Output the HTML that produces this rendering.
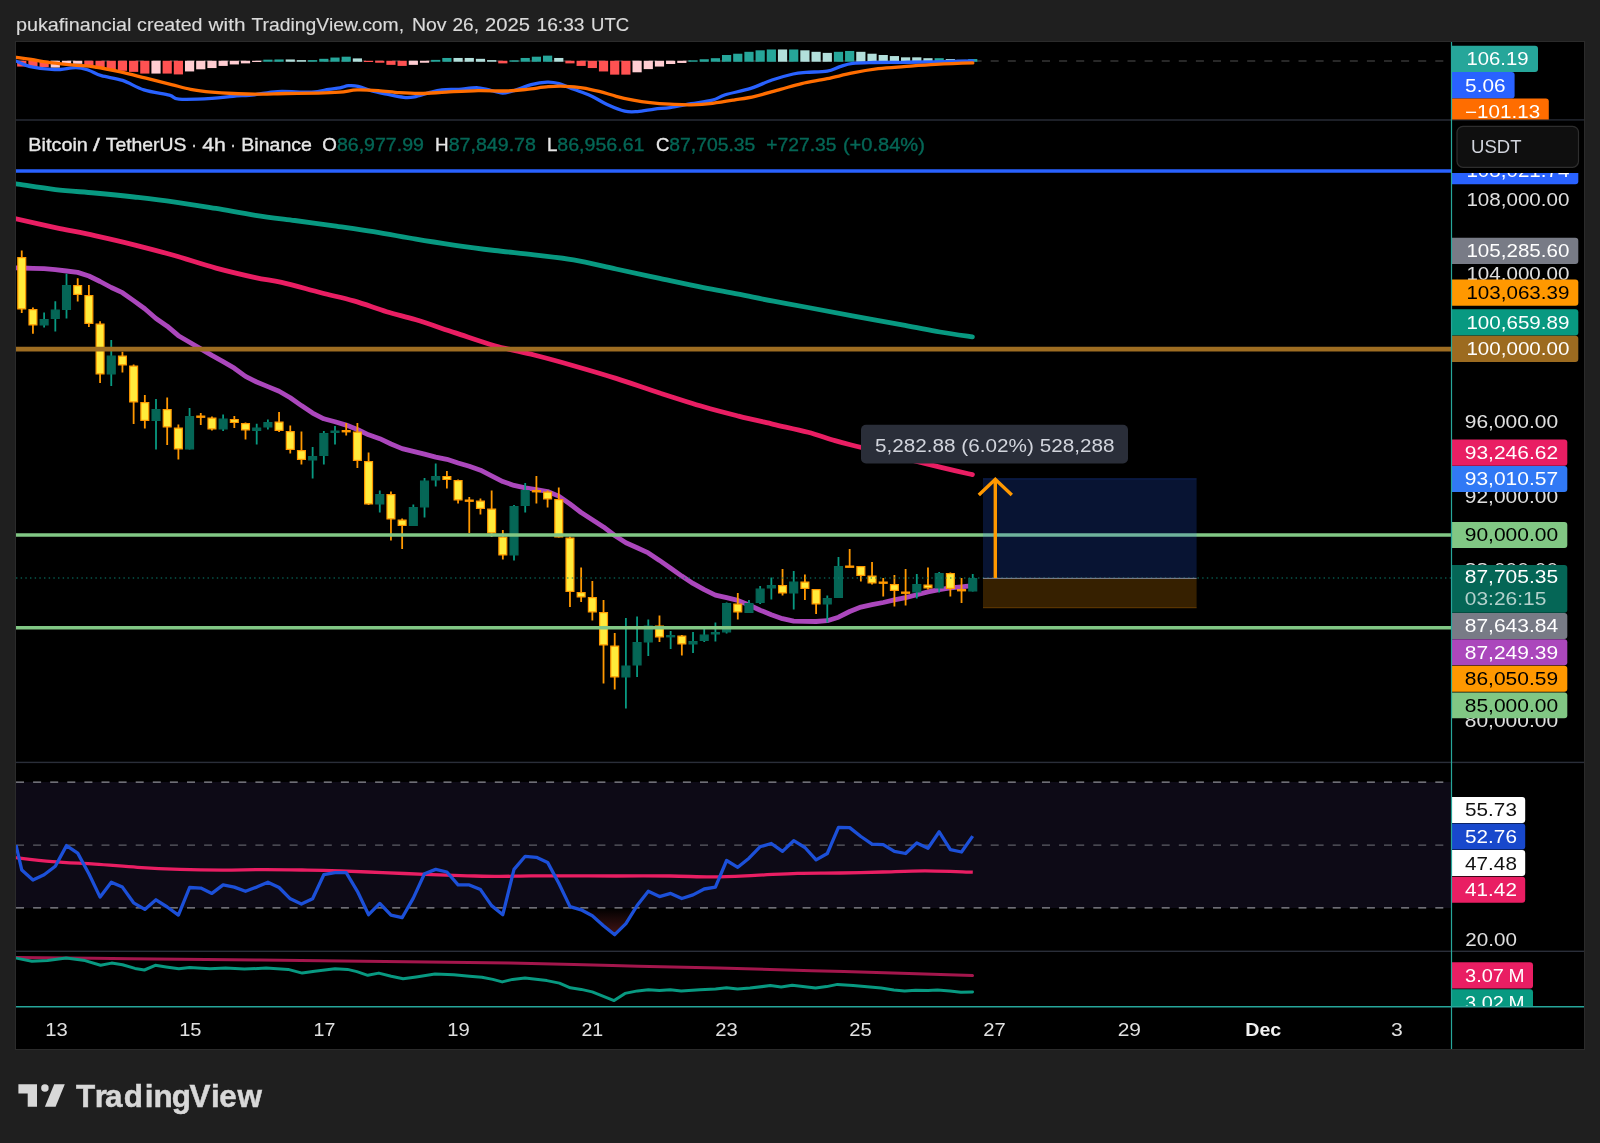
<!DOCTYPE html>
<html><head><meta charset="utf-8"><title>BTCUSDT chart</title>
<style>html,body{margin:0;padding:0;background:#1f1f1f;}body{width:1600px;height:1143px;overflow:hidden;font-family:"Liberation Sans",sans-serif;}svg{display:block;will-change:transform}</style>
</head><body>
<svg width="1600" height="1143" viewBox="0 0 1600 1143" font-family="Liberation Sans, sans-serif"><rect x="0" y="0" width="1600" height="1143" fill="#1f1f1f"/>
<rect x="15" y="41" width="1570" height="1009" fill="#2b2b2b"/>
<rect x="16" y="42" width="1568" height="1007" fill="#000"/>
<text x="15.90" y="31.00" font-size="19.0" fill="#dadada" font-weight="normal" text-anchor="start" textLength="115.60" lengthAdjust="spacingAndGlyphs" stroke="#dadada" stroke-width="0.15">pukafinancial</text>
<text x="137.10" y="31.00" font-size="19.0" fill="#dadada" font-weight="normal" text-anchor="start" textLength="65.40" lengthAdjust="spacingAndGlyphs" stroke="#dadada" stroke-width="0.15">created</text>
<text x="208.50" y="31.00" font-size="19.0" fill="#dadada" font-weight="normal" text-anchor="start" textLength="37.00" lengthAdjust="spacingAndGlyphs" stroke="#dadada" stroke-width="0.15">with</text>
<text x="251.50" y="31.00" font-size="19.0" fill="#dadada" font-weight="normal" text-anchor="start" textLength="152.60" lengthAdjust="spacingAndGlyphs" stroke="#dadada" stroke-width="0.15">TradingView.com,</text>
<text x="411.90" y="31.00" font-size="19.0" fill="#dadada" font-weight="normal" text-anchor="start" textLength="34.60" lengthAdjust="spacingAndGlyphs" stroke="#dadada" stroke-width="0.15">Nov</text>
<text x="452.50" y="31.00" font-size="19.0" fill="#dadada" font-weight="normal" text-anchor="start" textLength="26.50" lengthAdjust="spacingAndGlyphs" stroke="#dadada" stroke-width="0.15">26,</text>
<text x="485.10" y="31.00" font-size="19.0" fill="#dadada" font-weight="normal" text-anchor="start" textLength="44.90" lengthAdjust="spacingAndGlyphs" stroke="#dadada" stroke-width="0.15">2025</text>
<text x="536.50" y="31.00" font-size="19.0" fill="#dadada" font-weight="normal" text-anchor="start" textLength="48.00" lengthAdjust="spacingAndGlyphs" stroke="#dadada" stroke-width="0.15">16:33</text>
<text x="591.10" y="31.00" font-size="19.0" fill="#dadada" font-weight="normal" text-anchor="start" textLength="38.00" lengthAdjust="spacingAndGlyphs" stroke="#dadada" stroke-width="0.15">UTC</text>
<defs><clipPath id="cpM"><rect x="16" y="42" width="1435.5" height="78"/></clipPath><clipPath id="cpMain"><rect x="16" y="120" width="1435.5" height="642"/></clipPath><clipPath id="cpR"><rect x="16" y="763" width="1435.5" height="188"/></clipPath><clipPath id="cpO"><rect x="16" y="952" width="1435.5" height="55"/></clipPath><clipPath id="cpAx1"><rect x="1451.5" y="42" width="132.5" height="77.5"/></clipPath><clipPath id="cpAx2"><rect x="1451.5" y="120.5" width="132.5" height="641.5"/></clipPath><clipPath id="cpAx4"><rect x="1451.5" y="952" width="132.5" height="54"/></clipPath></defs>
<g clip-path="url(#cpM)">
<line x1="16" y1="61" x2="1451.5" y2="61" stroke="#505050" stroke-width="1.2" stroke-dasharray="8 9.1"/>
<rect x="17.15" y="60.75" width="9.2" height="5.81" fill="#ff5252"/>
<rect x="28.34" y="60.75" width="9.2" height="6.87" fill="#ff5252"/>
<rect x="39.53" y="60.75" width="9.2" height="6.45" fill="#ff5252"/>
<rect x="50.71" y="60.75" width="9.2" height="6.87" fill="#ffcdd2"/>
<rect x="61.90" y="60.75" width="9.2" height="3.05" fill="#ffcdd2"/>
<rect x="73.09" y="60.75" width="9.2" height="3.05" fill="#ffcdd2"/>
<rect x="84.28" y="60.75" width="9.2" height="5.81" fill="#ff5252"/>
<rect x="95.47" y="60.75" width="9.2" height="7.94" fill="#ff5252"/>
<rect x="106.65" y="60.75" width="9.2" height="8.57" fill="#ff5252"/>
<rect x="117.84" y="60.75" width="9.2" height="10.06" fill="#ff5252"/>
<rect x="129.03" y="60.75" width="9.2" height="11.12" fill="#ff5252"/>
<rect x="140.22" y="60.75" width="9.2" height="12.82" fill="#ff5252"/>
<rect x="151.41" y="60.75" width="9.2" height="12.82" fill="#ffcdd2"/>
<rect x="162.59" y="60.75" width="9.2" height="12.82" fill="#ff5252"/>
<rect x="173.78" y="60.75" width="9.2" height="13.67" fill="#ff5252"/>
<rect x="184.97" y="60.75" width="9.2" height="10.70" fill="#ffcdd2"/>
<rect x="196.16" y="60.75" width="9.2" height="8.57" fill="#ffcdd2"/>
<rect x="207.35" y="60.75" width="9.2" height="7.30" fill="#ffcdd2"/>
<rect x="218.53" y="60.75" width="9.2" height="5.17" fill="#ffcdd2"/>
<rect x="229.72" y="60.75" width="9.2" height="3.69" fill="#ffcdd2"/>
<rect x="240.91" y="60.75" width="9.2" height="2.62" fill="#ffcdd2"/>
<rect x="252.10" y="60.75" width="9.2" height="1.25" fill="#ffcdd2"/>
<rect x="263.29" y="59.67" width="9.2" height="2.08" fill="#26a69a"/>
<rect x="274.47" y="59.46" width="9.2" height="2.29" fill="#26a69a"/>
<rect x="285.66" y="59.46" width="9.2" height="2.29" fill="#b2dfdb"/>
<rect x="296.85" y="60.10" width="9.2" height="1.65" fill="#b2dfdb"/>
<rect x="308.04" y="60.10" width="9.2" height="1.65" fill="#26a69a"/>
<rect x="319.23" y="58.82" width="9.2" height="2.93" fill="#26a69a"/>
<rect x="330.41" y="57.55" width="9.2" height="4.20" fill="#26a69a"/>
<rect x="341.60" y="56.70" width="9.2" height="5.05" fill="#26a69a"/>
<rect x="352.79" y="58.40" width="9.2" height="3.35" fill="#b2dfdb"/>
<rect x="363.98" y="60.75" width="9.2" height="1.25" fill="#ff5252"/>
<rect x="375.17" y="60.75" width="9.2" height="1.99" fill="#ff5252"/>
<rect x="386.35" y="60.75" width="9.2" height="4.11" fill="#ff5252"/>
<rect x="397.54" y="60.75" width="9.2" height="5.17" fill="#ff5252"/>
<rect x="408.73" y="60.75" width="9.2" height="4.11" fill="#ffcdd2"/>
<rect x="419.92" y="60.75" width="9.2" height="1.99" fill="#ffcdd2"/>
<rect x="431.11" y="59.89" width="9.2" height="1.86" fill="#26a69a"/>
<rect x="442.29" y="57.97" width="9.2" height="3.78" fill="#26a69a"/>
<rect x="453.48" y="57.97" width="9.2" height="3.78" fill="#b2dfdb"/>
<rect x="464.67" y="57.97" width="9.2" height="3.78" fill="#b2dfdb"/>
<rect x="475.86" y="58.82" width="9.2" height="2.93" fill="#b2dfdb"/>
<rect x="487.05" y="60.10" width="9.2" height="1.65" fill="#b2dfdb"/>
<rect x="498.23" y="60.75" width="9.2" height="2.62" fill="#ff5252"/>
<rect x="509.42" y="60.31" width="9.2" height="1.44" fill="#26a69a"/>
<rect x="520.61" y="57.97" width="9.2" height="3.78" fill="#26a69a"/>
<rect x="531.80" y="56.70" width="9.2" height="5.05" fill="#26a69a"/>
<rect x="542.99" y="55.64" width="9.2" height="6.11" fill="#26a69a"/>
<rect x="554.17" y="57.97" width="9.2" height="3.78" fill="#b2dfdb"/>
<rect x="565.36" y="60.75" width="9.2" height="2.62" fill="#ff5252"/>
<rect x="576.55" y="60.75" width="9.2" height="5.17" fill="#ff5252"/>
<rect x="587.74" y="60.75" width="9.2" height="7.30" fill="#ff5252"/>
<rect x="598.93" y="60.75" width="9.2" height="10.70" fill="#ff5252"/>
<rect x="610.11" y="60.75" width="9.2" height="13.89" fill="#ff5252"/>
<rect x="621.30" y="60.75" width="9.2" height="13.89" fill="#ff5252"/>
<rect x="632.49" y="60.75" width="9.2" height="11.55" fill="#ffcdd2"/>
<rect x="643.68" y="60.75" width="9.2" height="8.36" fill="#ffcdd2"/>
<rect x="654.87" y="60.75" width="9.2" height="5.81" fill="#ffcdd2"/>
<rect x="666.05" y="60.75" width="9.2" height="3.26" fill="#ffcdd2"/>
<rect x="677.24" y="60.75" width="9.2" height="2.20" fill="#ffcdd2"/>
<rect x="688.43" y="60.31" width="9.2" height="1.44" fill="#26a69a"/>
<rect x="699.62" y="59.25" width="9.2" height="2.50" fill="#26a69a"/>
<rect x="710.81" y="58.19" width="9.2" height="3.56" fill="#26a69a"/>
<rect x="721.99" y="55.00" width="9.2" height="6.75" fill="#26a69a"/>
<rect x="733.18" y="53.72" width="9.2" height="8.03" fill="#26a69a"/>
<rect x="744.37" y="51.81" width="9.2" height="9.94" fill="#26a69a"/>
<rect x="755.56" y="50.32" width="9.2" height="11.43" fill="#26a69a"/>
<rect x="766.75" y="49.47" width="9.2" height="12.28" fill="#26a69a"/>
<rect x="777.93" y="49.47" width="9.2" height="12.28" fill="#b2dfdb"/>
<rect x="789.12" y="49.47" width="9.2" height="12.28" fill="#26a69a"/>
<rect x="800.31" y="50.32" width="9.2" height="11.43" fill="#b2dfdb"/>
<rect x="811.50" y="51.81" width="9.2" height="9.94" fill="#b2dfdb"/>
<rect x="822.69" y="52.87" width="9.2" height="8.88" fill="#b2dfdb"/>
<rect x="833.87" y="51.81" width="9.2" height="9.94" fill="#26a69a"/>
<rect x="845.06" y="50.96" width="9.2" height="10.79" fill="#26a69a"/>
<rect x="856.25" y="51.81" width="9.2" height="9.94" fill="#b2dfdb"/>
<rect x="867.44" y="53.72" width="9.2" height="8.03" fill="#b2dfdb"/>
<rect x="878.63" y="55.00" width="9.2" height="6.75" fill="#b2dfdb"/>
<rect x="889.81" y="56.06" width="9.2" height="5.69" fill="#b2dfdb"/>
<rect x="901.00" y="57.34" width="9.2" height="4.41" fill="#b2dfdb"/>
<rect x="912.19" y="57.34" width="9.2" height="4.41" fill="#b2dfdb"/>
<rect x="923.38" y="58.19" width="9.2" height="3.56" fill="#b2dfdb"/>
<rect x="934.57" y="58.19" width="9.2" height="3.56" fill="#26a69a"/>
<rect x="945.75" y="59.04" width="9.2" height="2.71" fill="#b2dfdb"/>
<rect x="956.94" y="59.89" width="9.2" height="1.86" fill="#b2dfdb"/>
<rect x="968.13" y="59.04" width="9.2" height="2.71" fill="#26a69a"/>
<path d="M16.4 61.2 C18.7 62.1 23.8 65.2 30.2 66.6 C36.6 68.0 47.0 69.5 54.6 69.7 C62.2 69.9 70.2 67.5 75.9 67.6 C81.6 67.7 84.3 68.8 88.6 70.2 C92.8 71.6 95.7 74.0 101.4 75.7 C107.1 77.4 115.5 78.0 122.6 80.4 C129.7 82.8 136.1 87.4 143.9 89.9 C151.7 92.4 163.6 93.7 169.4 95.2 C175.2 96.7 171.8 98.6 178.9 99.1 C186.0 99.6 202.9 98.9 211.9 98.4 C220.9 97.9 226.0 96.9 233.1 96.3 C240.2 95.7 247.0 95.6 254.4 94.8 C261.8 94.0 268.1 92.0 277.7 91.6 C287.2 91.1 303.2 92.5 311.7 92.1 C320.2 91.7 324.0 90.0 328.7 89.3 C333.4 88.6 336.7 88.4 340.0 87.8 C343.3 87.2 345.5 86.0 348.5 85.7 C351.5 85.5 354.1 85.4 358.0 86.3 C361.9 87.2 367.1 89.7 371.9 91.0 C376.7 92.3 381.4 93.1 386.7 94.2 C392.0 95.3 399.1 97.0 403.7 97.4 C408.3 97.9 410.1 97.7 414.4 96.9 C418.6 96.1 424.6 93.9 429.2 92.7 C433.8 91.5 437.0 90.5 442.0 89.9 C447.0 89.3 453.0 89.7 459.0 89.3 C465.0 88.9 472.4 87.5 478.1 87.8 C483.8 88.1 488.9 90.1 493.0 91.0 C497.1 91.9 499.1 93.2 502.6 93.1 C506.1 93.0 509.4 92.0 514.2 90.6 C519.0 89.2 525.7 86.0 531.2 84.6 C536.7 83.2 542.6 82.3 547.2 82.1 C551.8 81.9 554.5 82.4 558.9 83.6 C563.3 84.8 568.4 87.3 573.7 89.3 C579.0 91.3 585.0 93.1 590.7 95.7 C596.4 98.3 602.0 102.2 607.7 104.8 C613.4 107.4 619.7 110.1 624.7 111.2 C629.7 112.3 632.5 111.9 637.5 111.6 C642.5 111.2 649.1 109.8 654.5 109.1 C659.9 108.4 663.9 108.5 670.0 107.6 C676.1 106.7 684.1 105.0 691.2 103.7 C698.3 102.5 706.8 101.6 712.5 100.1 C718.2 98.6 718.8 96.8 725.2 94.8 C731.6 92.8 742.9 90.9 750.7 88.4 C758.5 85.9 764.9 82.4 772.0 80.0 C779.1 77.6 787.5 75.3 793.2 74.0 C798.9 72.7 800.3 72.8 806.0 72.3 C811.7 71.8 821.5 72.2 827.2 71.2 C832.9 70.2 835.8 67.9 840.0 66.6 C844.2 65.3 847.0 64.1 852.7 63.4 C858.4 62.7 865.5 62.7 874.0 62.5 C882.5 62.3 893.4 62.4 903.7 62.3 C914.0 62.2 924.1 62.1 935.6 61.9 C947.1 61.6 966.6 61.0 972.8 60.8" fill="none" stroke="#2962ff" stroke-width="3.3" stroke-linejoin="round" stroke-linecap="round"/>
<path d="M16.4 57.4 C18.9 57.8 25.2 58.6 31.2 59.5 C37.2 60.4 45.4 62.0 52.5 62.9 C59.6 63.8 66.6 64.4 73.7 65.1 C80.8 65.8 87.2 65.9 95.0 67.0 C102.8 68.1 112.0 70.0 120.5 71.9 C129.0 73.8 137.5 76.1 146.0 78.2 C154.5 80.3 164.1 82.8 171.5 84.6 C178.9 86.4 183.9 88.0 190.6 89.3 C197.3 90.5 204.8 91.4 211.9 92.1 C219.0 92.8 226.0 93.2 233.1 93.5 C240.2 93.8 245.6 94.2 254.4 94.2 C263.2 94.2 275.6 93.7 286.2 93.5 C296.8 93.3 309.1 93.3 318.1 93.1 C327.1 92.9 333.5 92.6 340.0 92.1 C346.5 91.6 350.6 90.2 357.0 89.9 C363.4 89.7 371.1 90.1 378.2 90.6 C385.3 91.1 392.4 92.2 399.5 92.7 C406.6 93.2 412.9 93.6 420.7 93.5 C428.5 93.4 436.6 92.6 446.2 92.1 C455.8 91.6 468.2 90.8 478.1 90.6 C488.0 90.4 497.6 91.2 505.7 91.0 C513.9 90.8 519.9 90.0 527.0 89.3 C534.1 88.6 541.8 87.2 548.2 86.7 C554.6 86.2 559.5 86.1 565.2 86.3 C570.9 86.5 576.5 86.9 582.2 87.8 C587.9 88.7 593.5 90.0 599.2 91.4 C604.9 92.8 610.5 94.8 616.2 96.3 C621.9 97.8 627.5 99.0 633.2 100.1 C638.9 101.2 644.1 102.0 650.2 102.7 C656.3 103.4 663.2 103.9 670.0 104.2 C676.8 104.5 684.1 105.0 691.2 104.8 C698.3 104.6 705.4 104.1 712.5 103.3 C719.6 102.5 726.6 101.3 733.7 100.1 C740.8 98.9 747.2 98.1 755.0 96.3 C762.8 94.5 772.7 91.4 780.5 89.3 C788.3 87.2 793.9 85.4 801.7 83.6 C809.5 81.8 818.7 80.5 827.2 78.7 C835.7 76.9 844.2 74.6 852.7 72.9 C861.2 71.2 869.7 69.8 878.2 68.7 C886.7 67.7 894.1 67.3 903.7 66.6 C913.3 65.9 924.1 65.0 935.6 64.4 C947.1 63.8 966.6 63.1 972.8 62.9" fill="none" stroke="#ff6d00" stroke-width="3.3" stroke-linejoin="round" stroke-linecap="round"/>
</g>
<g clip-path="url(#cpMain)">
<path d="M16.0 183.9 C22.6 184.8 42.3 188.0 55.4 189.6 C68.5 191.1 81.6 191.8 94.7 193.0 C107.8 194.2 121.0 195.5 134.1 197.0 C147.2 198.5 159.8 199.9 173.5 201.8 C187.2 203.7 202.3 206.2 216.0 208.4 C229.7 210.7 242.3 213.3 255.4 215.3 C268.5 217.3 281.6 218.8 294.7 220.5 C307.8 222.2 321.0 224.0 334.1 225.8 C347.2 227.7 359.9 229.4 373.5 231.6 C387.1 233.8 402.4 236.9 416.0 239.2 C429.6 241.5 442.3 243.4 455.4 245.3 C468.5 247.2 481.6 248.9 494.7 250.5 C507.8 252.1 521.0 253.2 534.1 254.8 C547.2 256.4 559.9 257.5 573.5 259.9 C587.1 262.3 601.6 265.9 616.0 269.0 C630.4 272.1 645.1 275.3 659.7 278.4 C674.3 281.5 690.4 285.0 703.5 287.6 C716.6 290.2 726.8 291.9 738.5 294.2 C750.2 296.5 761.9 299.0 773.5 301.2 C785.1 303.4 794.8 305.1 808.0 307.5 C821.2 309.9 836.3 312.8 852.5 315.8 C868.7 318.8 890.4 322.6 905.0 325.3 C919.6 328.0 928.8 330.1 940.0 332.0 C951.2 333.9 967.0 336.1 972.4 336.9" fill="none" stroke="#089981" stroke-width="4.8" stroke-linejoin="round" stroke-linecap="round"/>
<path d="M16.0 218.8 C22.6 220.3 42.3 224.8 55.4 227.6 C68.5 230.4 81.6 232.7 94.7 235.6 C107.8 238.5 121.0 241.5 134.1 244.8 C147.2 248.1 159.8 251.4 173.5 255.3 C187.2 259.2 202.3 264.4 216.0 268.1 C229.7 271.8 244.5 275.2 255.4 277.6 C266.3 280.0 270.7 279.8 281.6 282.3 C292.5 284.8 309.0 289.7 321.0 292.8 C333.0 295.9 342.9 297.8 353.8 300.9 C364.7 304.0 376.2 308.5 386.6 311.7 C397.0 314.9 404.5 316.3 416.0 319.8 C427.5 323.3 442.3 328.6 455.4 332.9 C468.5 337.2 481.6 342.0 494.7 345.7 C507.8 349.4 521.0 351.7 534.1 355.0 C547.2 358.3 559.9 361.8 573.5 365.7 C587.1 369.6 601.6 373.8 616.0 378.4 C630.4 382.9 645.1 388.3 659.7 393.0 C674.3 397.7 690.4 402.9 703.5 406.8 C716.6 410.7 726.8 413.2 738.5 416.1 C750.2 419.0 761.9 421.6 773.5 424.3 C785.1 427.0 797.8 429.6 808.0 432.3 C818.2 435.0 826.4 438.2 835.0 440.6 C843.6 443.1 842.0 442.6 859.5 447.0 C877.0 451.4 921.2 462.6 940.0 467.2 C958.8 471.8 967.0 473.4 972.4 474.6" fill="none" stroke="#e91e63" stroke-width="4.8" stroke-linejoin="round" stroke-linecap="round"/>
<polyline points="16.0,267.9 21.8,268.0 32.9,268.4 44.1,268.7 55.3,269.7 66.5,271.0 77.7,272.4 88.9,276.0 100.1,281.5 111.3,287.5 122.4,292.7 133.6,300.6 144.8,308.8 156.0,318.5 167.2,326.2 178.4,335.7 189.6,342.3 200.8,348.8 211.9,355.4 223.1,361.7 234.3,368.2 245.5,376.4 256.7,382.0 267.9,386.6 279.1,391.2 290.3,397.8 301.4,405.6 312.6,413.1 323.8,418.8 335.0,421.7 346.2,425.1 357.4,429.5 368.6,434.8 379.8,438.7 391.0,444.0 402.1,448.6 413.3,451.4 424.5,454.1 435.7,457.1 446.9,459.3 458.1,463.0 469.3,466.3 480.5,470.2 491.6,475.9 502.8,481.6 514.0,485.4 525.2,487.8 536.4,489.5 547.6,491.5 558.8,496.1 570.0,504.0 581.1,512.5 592.3,519.7 603.5,526.9 614.7,535.5 625.9,542.7 637.1,547.7 648.3,552.9 659.5,560.4 670.7,568.3 681.8,576.1 693.0,583.4 704.2,589.6 715.4,595.1 726.6,597.7 737.8,600.4 749.0,605.0 760.2,610.2 771.3,614.8 782.5,618.7 793.7,621.1 804.9,621.4 816.1,621.5 827.3,620.7 838.5,617.2 849.7,611.5 860.9,607.1 872.0,604.7 883.2,602.5 894.4,599.9 905.6,597.6 916.8,594.7 928.0,591.9 939.2,589.6 950.4,587.8 961.5,586.8 972.7,585.7" fill="none" stroke="#ab47bc" stroke-width="4.8" stroke-linejoin="round" stroke-linecap="butt"/>
<line x1="21.75" y1="250.50" x2="21.75" y2="313.00" stroke="#ff9800" stroke-width="1.8"/>
<rect x="17.80" y="257.60" width="7.9" height="51.30" fill="#ffeb3b" stroke="#ff9800" stroke-width="1.2"/>
<line x1="32.94" y1="307.50" x2="32.94" y2="333.75" stroke="#ff9800" stroke-width="1.8"/>
<rect x="28.99" y="309.60" width="7.9" height="15.30" fill="#ffeb3b" stroke="#ff9800" stroke-width="1.2"/>
<line x1="44.13" y1="312.50" x2="44.13" y2="327.50" stroke="#089981" stroke-width="1.8"/>
<rect x="40.18" y="319.60" width="7.9" height="5.30" fill="#056656" stroke="#056656" stroke-width="1.2"/>
<line x1="55.31" y1="301.25" x2="55.31" y2="331.50" stroke="#089981" stroke-width="1.8"/>
<rect x="51.36" y="310.10" width="7.9" height="8.30" fill="#056656" stroke="#056656" stroke-width="1.2"/>
<line x1="66.50" y1="273.75" x2="66.50" y2="318.50" stroke="#089981" stroke-width="1.8"/>
<rect x="62.55" y="285.60" width="7.9" height="23.80" fill="#056656" stroke="#056656" stroke-width="1.2"/>
<line x1="77.69" y1="278.25" x2="77.69" y2="301.50" stroke="#ff9800" stroke-width="1.8"/>
<rect x="73.74" y="285.60" width="7.9" height="8.80" fill="#ffeb3b" stroke="#ff9800" stroke-width="1.2"/>
<line x1="88.88" y1="285.00" x2="88.88" y2="327.00" stroke="#ff9800" stroke-width="1.8"/>
<rect x="84.93" y="295.60" width="7.9" height="27.80" fill="#ffeb3b" stroke="#ff9800" stroke-width="1.2"/>
<line x1="100.07" y1="321.25" x2="100.07" y2="383.00" stroke="#ff9800" stroke-width="1.8"/>
<rect x="96.12" y="324.10" width="7.9" height="49.80" fill="#ffeb3b" stroke="#ff9800" stroke-width="1.2"/>
<line x1="111.25" y1="340.00" x2="111.25" y2="386.00" stroke="#089981" stroke-width="1.8"/>
<rect x="107.30" y="356.10" width="7.9" height="17.80" fill="#056656" stroke="#056656" stroke-width="1.2"/>
<line x1="122.44" y1="351.75" x2="122.44" y2="372.50" stroke="#ff9800" stroke-width="1.8"/>
<rect x="118.49" y="356.10" width="7.9" height="8.80" fill="#ffeb3b" stroke="#ff9800" stroke-width="1.2"/>
<line x1="133.63" y1="364.50" x2="133.63" y2="424.00" stroke="#ff9800" stroke-width="1.8"/>
<rect x="129.68" y="366.10" width="7.9" height="35.80" fill="#ffeb3b" stroke="#ff9800" stroke-width="1.2"/>
<line x1="144.82" y1="395.00" x2="144.82" y2="428.50" stroke="#ff9800" stroke-width="1.8"/>
<rect x="140.87" y="402.60" width="7.9" height="17.80" fill="#ffeb3b" stroke="#ff9800" stroke-width="1.2"/>
<line x1="156.01" y1="399.00" x2="156.01" y2="449.50" stroke="#089981" stroke-width="1.8"/>
<rect x="152.06" y="409.60" width="7.9" height="10.80" fill="#056656" stroke="#056656" stroke-width="1.2"/>
<line x1="167.19" y1="397.50" x2="167.19" y2="445.00" stroke="#ff9800" stroke-width="1.8"/>
<rect x="163.24" y="409.60" width="7.9" height="17.30" fill="#ffeb3b" stroke="#ff9800" stroke-width="1.2"/>
<line x1="178.38" y1="424.50" x2="178.38" y2="459.50" stroke="#ff9800" stroke-width="1.8"/>
<rect x="174.43" y="428.10" width="7.9" height="20.80" fill="#ffeb3b" stroke="#ff9800" stroke-width="1.2"/>
<line x1="189.57" y1="408.00" x2="189.57" y2="449.50" stroke="#089981" stroke-width="1.8"/>
<rect x="185.62" y="416.60" width="7.9" height="32.30" fill="#056656" stroke="#056656" stroke-width="1.2"/>
<line x1="200.76" y1="413.00" x2="200.76" y2="425.00" stroke="#ff9800" stroke-width="1.8"/>
<rect x="196.21" y="415.50" width="9.1" height="2.40" fill="#ff9800"/>
<line x1="211.95" y1="416.50" x2="211.95" y2="430.50" stroke="#ff9800" stroke-width="1.8"/>
<rect x="208.00" y="418.10" width="7.9" height="10.80" fill="#ffeb3b" stroke="#ff9800" stroke-width="1.2"/>
<line x1="223.13" y1="414.50" x2="223.13" y2="431.00" stroke="#089981" stroke-width="1.8"/>
<rect x="219.18" y="419.10" width="7.9" height="9.80" fill="#056656" stroke="#056656" stroke-width="1.2"/>
<line x1="234.32" y1="416.00" x2="234.32" y2="428.00" stroke="#ff9800" stroke-width="1.8"/>
<rect x="230.37" y="419.60" width="7.9" height="2.80" fill="#ffeb3b" stroke="#ff9800" stroke-width="1.2"/>
<line x1="245.51" y1="422.50" x2="245.51" y2="439.50" stroke="#ff9800" stroke-width="1.8"/>
<rect x="241.56" y="423.60" width="7.9" height="6.30" fill="#ffeb3b" stroke="#ff9800" stroke-width="1.2"/>
<line x1="256.70" y1="423.75" x2="256.70" y2="444.50" stroke="#089981" stroke-width="1.8"/>
<rect x="252.75" y="428.10" width="7.9" height="2.30" fill="#056656" stroke="#056656" stroke-width="1.2"/>
<line x1="267.89" y1="419.50" x2="267.89" y2="429.50" stroke="#089981" stroke-width="1.8"/>
<rect x="263.94" y="422.60" width="7.9" height="4.30" fill="#056656" stroke="#056656" stroke-width="1.2"/>
<line x1="279.07" y1="412.00" x2="279.07" y2="432.00" stroke="#ff9800" stroke-width="1.8"/>
<rect x="275.12" y="422.10" width="7.9" height="8.30" fill="#ffeb3b" stroke="#ff9800" stroke-width="1.2"/>
<line x1="290.26" y1="425.50" x2="290.26" y2="453.50" stroke="#ff9800" stroke-width="1.8"/>
<rect x="286.31" y="431.60" width="7.9" height="17.80" fill="#ffeb3b" stroke="#ff9800" stroke-width="1.2"/>
<line x1="301.45" y1="431.50" x2="301.45" y2="464.50" stroke="#ff9800" stroke-width="1.8"/>
<rect x="297.50" y="450.60" width="7.9" height="8.80" fill="#ffeb3b" stroke="#ff9800" stroke-width="1.2"/>
<line x1="312.64" y1="447.00" x2="312.64" y2="478.50" stroke="#089981" stroke-width="1.8"/>
<rect x="308.69" y="456.60" width="7.9" height="3.30" fill="#056656" stroke="#056656" stroke-width="1.2"/>
<line x1="323.83" y1="431.00" x2="323.83" y2="464.50" stroke="#089981" stroke-width="1.8"/>
<rect x="319.88" y="433.60" width="7.9" height="21.80" fill="#056656" stroke="#056656" stroke-width="1.2"/>
<line x1="335.01" y1="426.00" x2="335.01" y2="444.50" stroke="#089981" stroke-width="1.8"/>
<rect x="330.46" y="430.50" width="9.1" height="2.50" fill="#056656"/>
<line x1="346.20" y1="423.00" x2="346.20" y2="435.50" stroke="#ff9800" stroke-width="1.8"/>
<rect x="341.65" y="430.00" width="9.1" height="2.40" fill="#ff9800"/>
<line x1="357.39" y1="423.00" x2="357.39" y2="468.00" stroke="#ff9800" stroke-width="1.8"/>
<rect x="353.44" y="432.10" width="7.9" height="28.30" fill="#ffeb3b" stroke="#ff9800" stroke-width="1.2"/>
<line x1="368.58" y1="452.50" x2="368.58" y2="505.00" stroke="#ff9800" stroke-width="1.8"/>
<rect x="364.63" y="461.60" width="7.9" height="42.30" fill="#ffeb3b" stroke="#ff9800" stroke-width="1.2"/>
<line x1="379.77" y1="490.50" x2="379.77" y2="512.50" stroke="#089981" stroke-width="1.8"/>
<rect x="375.82" y="494.60" width="7.9" height="9.30" fill="#056656" stroke="#056656" stroke-width="1.2"/>
<line x1="390.95" y1="491.50" x2="390.95" y2="540.50" stroke="#ff9800" stroke-width="1.8"/>
<rect x="387.00" y="494.60" width="7.9" height="24.30" fill="#ffeb3b" stroke="#ff9800" stroke-width="1.2"/>
<line x1="402.14" y1="518.50" x2="402.14" y2="549.00" stroke="#ff9800" stroke-width="1.8"/>
<rect x="398.19" y="520.10" width="7.9" height="5.30" fill="#ffeb3b" stroke="#ff9800" stroke-width="1.2"/>
<line x1="413.33" y1="504.50" x2="413.33" y2="526.00" stroke="#089981" stroke-width="1.8"/>
<rect x="409.38" y="507.60" width="7.9" height="17.80" fill="#056656" stroke="#056656" stroke-width="1.2"/>
<line x1="424.52" y1="478.00" x2="424.52" y2="517.50" stroke="#089981" stroke-width="1.8"/>
<rect x="420.57" y="481.10" width="7.9" height="25.80" fill="#056656" stroke="#056656" stroke-width="1.2"/>
<line x1="435.71" y1="463.50" x2="435.71" y2="486.50" stroke="#089981" stroke-width="1.8"/>
<rect x="431.76" y="476.60" width="7.9" height="3.30" fill="#056656" stroke="#056656" stroke-width="1.2"/>
<line x1="446.89" y1="471.00" x2="446.89" y2="488.50" stroke="#ff9800" stroke-width="1.8"/>
<rect x="442.94" y="476.60" width="7.9" height="2.80" fill="#ffeb3b" stroke="#ff9800" stroke-width="1.2"/>
<line x1="458.08" y1="479.50" x2="458.08" y2="503.50" stroke="#ff9800" stroke-width="1.8"/>
<rect x="454.13" y="480.60" width="7.9" height="19.30" fill="#ffeb3b" stroke="#ff9800" stroke-width="1.2"/>
<line x1="469.27" y1="497.00" x2="469.27" y2="533.00" stroke="#ff9800" stroke-width="1.8"/>
<rect x="464.72" y="499.50" width="9.1" height="2.40" fill="#ff9800"/>
<line x1="480.46" y1="498.50" x2="480.46" y2="514.50" stroke="#ff9800" stroke-width="1.8"/>
<rect x="476.51" y="501.10" width="7.9" height="7.30" fill="#ffeb3b" stroke="#ff9800" stroke-width="1.2"/>
<line x1="491.65" y1="490.50" x2="491.65" y2="537.00" stroke="#ff9800" stroke-width="1.8"/>
<rect x="487.70" y="509.10" width="7.9" height="23.80" fill="#ffeb3b" stroke="#ff9800" stroke-width="1.2"/>
<line x1="502.83" y1="530.00" x2="502.83" y2="559.50" stroke="#ff9800" stroke-width="1.8"/>
<rect x="498.88" y="537.10" width="7.9" height="17.80" fill="#ffeb3b" stroke="#ff9800" stroke-width="1.2"/>
<line x1="514.02" y1="505.00" x2="514.02" y2="560.50" stroke="#089981" stroke-width="1.8"/>
<rect x="510.07" y="506.60" width="7.9" height="48.30" fill="#056656" stroke="#056656" stroke-width="1.2"/>
<line x1="525.21" y1="483.00" x2="525.21" y2="512.50" stroke="#089981" stroke-width="1.8"/>
<rect x="521.26" y="490.60" width="7.9" height="14.80" fill="#056656" stroke="#056656" stroke-width="1.2"/>
<line x1="536.40" y1="476.00" x2="536.40" y2="503.50" stroke="#ff9800" stroke-width="1.8"/>
<rect x="531.85" y="490.00" width="9.1" height="2.40" fill="#ff9800"/>
<line x1="547.59" y1="490.50" x2="547.59" y2="507.50" stroke="#ff9800" stroke-width="1.8"/>
<rect x="543.64" y="492.10" width="7.9" height="6.80" fill="#ffeb3b" stroke="#ff9800" stroke-width="1.2"/>
<line x1="558.77" y1="487.50" x2="558.77" y2="537.50" stroke="#ff9800" stroke-width="1.8"/>
<rect x="554.82" y="499.60" width="7.9" height="37.30" fill="#ffeb3b" stroke="#ff9800" stroke-width="1.2"/>
<line x1="569.96" y1="536.50" x2="569.96" y2="607.00" stroke="#ff9800" stroke-width="1.8"/>
<rect x="566.01" y="538.10" width="7.9" height="53.30" fill="#ffeb3b" stroke="#ff9800" stroke-width="1.2"/>
<line x1="581.15" y1="567.50" x2="581.15" y2="602.00" stroke="#ff9800" stroke-width="1.8"/>
<rect x="577.20" y="592.60" width="7.9" height="4.30" fill="#ffeb3b" stroke="#ff9800" stroke-width="1.2"/>
<line x1="592.34" y1="581.00" x2="592.34" y2="620.50" stroke="#ff9800" stroke-width="1.8"/>
<rect x="588.39" y="597.60" width="7.9" height="14.30" fill="#ffeb3b" stroke="#ff9800" stroke-width="1.2"/>
<line x1="603.53" y1="600.00" x2="603.53" y2="683.50" stroke="#ff9800" stroke-width="1.8"/>
<rect x="599.58" y="612.60" width="7.9" height="32.30" fill="#ffeb3b" stroke="#ff9800" stroke-width="1.2"/>
<line x1="614.71" y1="633.00" x2="614.71" y2="689.50" stroke="#ff9800" stroke-width="1.8"/>
<rect x="610.76" y="646.10" width="7.9" height="30.80" fill="#ffeb3b" stroke="#ff9800" stroke-width="1.2"/>
<line x1="625.90" y1="618.00" x2="625.90" y2="708.50" stroke="#089981" stroke-width="1.8"/>
<rect x="621.95" y="666.10" width="7.9" height="10.80" fill="#056656" stroke="#056656" stroke-width="1.2"/>
<line x1="637.09" y1="616.50" x2="637.09" y2="677.00" stroke="#089981" stroke-width="1.8"/>
<rect x="633.14" y="642.60" width="7.9" height="22.30" fill="#056656" stroke="#056656" stroke-width="1.2"/>
<line x1="648.28" y1="619.50" x2="648.28" y2="656.00" stroke="#089981" stroke-width="1.8"/>
<rect x="644.33" y="626.10" width="7.9" height="15.80" fill="#056656" stroke="#056656" stroke-width="1.2"/>
<line x1="659.47" y1="615.50" x2="659.47" y2="642.00" stroke="#ff9800" stroke-width="1.8"/>
<rect x="655.52" y="626.10" width="7.9" height="10.80" fill="#ffeb3b" stroke="#ff9800" stroke-width="1.2"/>
<line x1="670.65" y1="631.00" x2="670.65" y2="649.00" stroke="#089981" stroke-width="1.8"/>
<rect x="666.10" y="635.00" width="9.1" height="2.40" fill="#056656"/>
<line x1="681.84" y1="635.00" x2="681.84" y2="655.50" stroke="#ff9800" stroke-width="1.8"/>
<rect x="677.89" y="636.10" width="7.9" height="7.80" fill="#ffeb3b" stroke="#ff9800" stroke-width="1.2"/>
<line x1="693.03" y1="632.00" x2="693.03" y2="653.00" stroke="#089981" stroke-width="1.8"/>
<rect x="689.08" y="641.60" width="7.9" height="2.30" fill="#056656" stroke="#056656" stroke-width="1.2"/>
<line x1="704.22" y1="629.00" x2="704.22" y2="642.00" stroke="#089981" stroke-width="1.8"/>
<rect x="700.27" y="635.10" width="7.9" height="5.30" fill="#056656" stroke="#056656" stroke-width="1.2"/>
<line x1="715.41" y1="622.50" x2="715.41" y2="641.50" stroke="#089981" stroke-width="1.8"/>
<rect x="710.86" y="632.00" width="9.1" height="2.50" fill="#056656"/>
<line x1="726.59" y1="602.50" x2="726.59" y2="633.50" stroke="#089981" stroke-width="1.8"/>
<rect x="722.64" y="603.60" width="7.9" height="28.30" fill="#056656" stroke="#056656" stroke-width="1.2"/>
<line x1="737.78" y1="593.00" x2="737.78" y2="619.50" stroke="#ff9800" stroke-width="1.8"/>
<rect x="733.83" y="604.10" width="7.9" height="7.80" fill="#ffeb3b" stroke="#ff9800" stroke-width="1.2"/>
<line x1="748.97" y1="600.00" x2="748.97" y2="613.00" stroke="#089981" stroke-width="1.8"/>
<rect x="745.02" y="603.60" width="7.9" height="8.80" fill="#056656" stroke="#056656" stroke-width="1.2"/>
<line x1="760.16" y1="586.00" x2="760.16" y2="604.00" stroke="#089981" stroke-width="1.8"/>
<rect x="756.21" y="589.10" width="7.9" height="13.30" fill="#056656" stroke="#056656" stroke-width="1.2"/>
<line x1="771.35" y1="577.50" x2="771.35" y2="599.50" stroke="#089981" stroke-width="1.8"/>
<rect x="767.40" y="585.60" width="7.9" height="2.30" fill="#056656" stroke="#056656" stroke-width="1.2"/>
<line x1="782.53" y1="569.00" x2="782.53" y2="595.50" stroke="#ff9800" stroke-width="1.8"/>
<rect x="778.58" y="585.60" width="7.9" height="7.30" fill="#ffeb3b" stroke="#ff9800" stroke-width="1.2"/>
<line x1="793.72" y1="571.00" x2="793.72" y2="609.50" stroke="#089981" stroke-width="1.8"/>
<rect x="789.77" y="582.10" width="7.9" height="10.80" fill="#056656" stroke="#056656" stroke-width="1.2"/>
<line x1="804.91" y1="574.50" x2="804.91" y2="600.00" stroke="#ff9800" stroke-width="1.8"/>
<rect x="800.96" y="582.10" width="7.9" height="6.30" fill="#ffeb3b" stroke="#ff9800" stroke-width="1.2"/>
<line x1="816.10" y1="589.00" x2="816.10" y2="614.00" stroke="#ff9800" stroke-width="1.8"/>
<rect x="812.15" y="589.60" width="7.9" height="14.30" fill="#ffeb3b" stroke="#ff9800" stroke-width="1.2"/>
<line x1="827.29" y1="595.50" x2="827.29" y2="622.50" stroke="#089981" stroke-width="1.8"/>
<rect x="823.34" y="598.60" width="7.9" height="5.30" fill="#056656" stroke="#056656" stroke-width="1.2"/>
<line x1="838.47" y1="557.00" x2="838.47" y2="598.00" stroke="#089981" stroke-width="1.8"/>
<rect x="834.52" y="566.60" width="7.9" height="30.80" fill="#056656" stroke="#056656" stroke-width="1.2"/>
<line x1="849.66" y1="549.00" x2="849.66" y2="566.50" stroke="#ff9800" stroke-width="1.8"/>
<rect x="845.11" y="565.50" width="9.1" height="2.40" fill="#ff9800"/>
<line x1="860.85" y1="566.00" x2="860.85" y2="581.50" stroke="#ff9800" stroke-width="1.8"/>
<rect x="856.90" y="566.60" width="7.9" height="8.80" fill="#ffeb3b" stroke="#ff9800" stroke-width="1.2"/>
<line x1="872.04" y1="562.00" x2="872.04" y2="584.50" stroke="#ff9800" stroke-width="1.8"/>
<rect x="868.09" y="576.10" width="7.9" height="6.80" fill="#ffeb3b" stroke="#ff9800" stroke-width="1.2"/>
<line x1="883.23" y1="578.00" x2="883.23" y2="596.50" stroke="#ff9800" stroke-width="1.8"/>
<rect x="878.68" y="581.50" width="9.1" height="2.40" fill="#ff9800"/>
<line x1="894.41" y1="575.00" x2="894.41" y2="606.50" stroke="#ff9800" stroke-width="1.8"/>
<rect x="890.46" y="584.60" width="7.9" height="5.80" fill="#ffeb3b" stroke="#ff9800" stroke-width="1.2"/>
<line x1="905.60" y1="569.00" x2="905.60" y2="605.50" stroke="#ff9800" stroke-width="1.8"/>
<rect x="901.05" y="591.50" width="9.1" height="2.40" fill="#ff9800"/>
<line x1="916.79" y1="574.00" x2="916.79" y2="598.50" stroke="#089981" stroke-width="1.8"/>
<rect x="912.84" y="584.60" width="7.9" height="7.30" fill="#056656" stroke="#056656" stroke-width="1.2"/>
<line x1="927.98" y1="567.50" x2="927.98" y2="589.50" stroke="#ff9800" stroke-width="1.8"/>
<rect x="924.03" y="585.10" width="7.9" height="2.80" fill="#ffeb3b" stroke="#ff9800" stroke-width="1.2"/>
<line x1="939.17" y1="572.00" x2="939.17" y2="592.50" stroke="#089981" stroke-width="1.8"/>
<rect x="935.22" y="573.60" width="7.9" height="14.30" fill="#056656" stroke="#056656" stroke-width="1.2"/>
<line x1="950.35" y1="572.50" x2="950.35" y2="596.50" stroke="#ff9800" stroke-width="1.8"/>
<rect x="946.40" y="573.60" width="7.9" height="14.80" fill="#ffeb3b" stroke="#ff9800" stroke-width="1.2"/>
<line x1="961.54" y1="578.00" x2="961.54" y2="603.00" stroke="#ff9800" stroke-width="1.8"/>
<rect x="956.99" y="589.00" width="9.1" height="2.40" fill="#ff9800"/>
<line x1="972.73" y1="574.00" x2="972.73" y2="591.50" stroke="#089981" stroke-width="1.8"/>
<rect x="968.78" y="578.60" width="7.9" height="12.30" fill="#056656" stroke="#056656" stroke-width="1.2"/>
<line x1="16" y1="171" x2="1451.5" y2="171" stroke="#2962ff" stroke-width="3.4"/>
<line x1="16" y1="349.2" x2="1451.5" y2="349.2" stroke="#9e6d22" stroke-width="4.8"/>
<line x1="16" y1="535" x2="1451.5" y2="535" stroke="#81c784" stroke-width="3.4"/>
<line x1="16" y1="627.7" x2="1451.5" y2="627.7" stroke="#81c784" stroke-width="3.4"/>
<line x1="16" y1="578" x2="1451.5" y2="578" stroke="#0a8270" stroke-width="1.2" stroke-dasharray="1.4 3.27"/>
<rect x="983" y="478.6" width="213.6" height="99.2" fill="rgba(41,98,255,0.2)"/>
<rect x="983" y="478.3" width="213.6" height="1" fill="rgba(41,98,255,0.25)"/>
<rect x="983" y="579" width="213.6" height="29" fill="rgba(255,152,0,0.21)"/>
<rect x="983" y="607.3" width="213.6" height="1" fill="rgba(255,152,0,0.25)"/>
<rect x="983" y="577.8" width="213.6" height="1.2" fill="#787b86"/>
<path d="M995.3 578 L995.3 480.5 M978.8 495 L995.3 479.3 L1011.8 495" fill="none" stroke="#ff9800" stroke-width="3.4" stroke-linejoin="miter"/>
<rect x="861" y="424.8" width="267" height="38.6" rx="5" fill="#2a2e39"/>
<text x="875.00" y="451.60" font-size="19.2" fill="#d1d4dc" font-weight="normal" text-anchor="start" textLength="239.50" lengthAdjust="spacingAndGlyphs" >5,282.88 (6.02%) 528,288</text>
</g>
<text x="28.30" y="151.00" font-size="17.8" fill="#e6e6e6" font-weight="normal" text-anchor="start" textLength="59.60" lengthAdjust="spacingAndGlyphs" stroke="#e6e6e6" stroke-width="0.35">Bitcoin</text>
<text x="92.90" y="151.00" font-size="17.8" fill="#e6e6e6" font-weight="normal" text-anchor="start" textLength="7.00" lengthAdjust="spacingAndGlyphs" stroke="#e6e6e6" stroke-width="0.35">/</text>
<text x="105.70" y="151.00" font-size="17.8" fill="#e6e6e6" font-weight="normal" text-anchor="start" textLength="80.80" lengthAdjust="spacingAndGlyphs" stroke="#e6e6e6" stroke-width="0.35">TetherUS</text>
<text x="191.80" y="151.00" font-size="17.8" fill="#e6e6e6" font-weight="normal" text-anchor="start" textLength="4.60" lengthAdjust="spacingAndGlyphs" stroke="#e6e6e6" stroke-width="0.35">·</text>
<text x="202.30" y="151.00" font-size="17.8" fill="#e6e6e6" font-weight="normal" text-anchor="start" textLength="23.60" lengthAdjust="spacingAndGlyphs" stroke="#e6e6e6" stroke-width="0.35">4h</text>
<text x="230.80" y="151.00" font-size="17.8" fill="#e6e6e6" font-weight="normal" text-anchor="start" textLength="4.60" lengthAdjust="spacingAndGlyphs" stroke="#e6e6e6" stroke-width="0.35">·</text>
<text x="241.30" y="151.00" font-size="17.8" fill="#e6e6e6" font-weight="normal" text-anchor="start" textLength="70.60" lengthAdjust="spacingAndGlyphs" stroke="#e6e6e6" stroke-width="0.35">Binance</text>
<text x="322.30" y="151.00" font-size="17.8" fill="#e6e6e6" font-weight="normal" text-anchor="start" textLength="14.60" lengthAdjust="spacingAndGlyphs" stroke="#e6e6e6" stroke-width="0.35">O</text>
<text x="336.90" y="151.00" font-size="17.8" fill="#056656" font-weight="normal" text-anchor="start" textLength="87.00" lengthAdjust="spacingAndGlyphs" stroke="#056656" stroke-width="0.35">86,977.99</text>
<text x="434.90" y="151.00" font-size="17.8" fill="#e6e6e6" font-weight="normal" text-anchor="start" textLength="13.60" lengthAdjust="spacingAndGlyphs" stroke="#e6e6e6" stroke-width="0.35">H</text>
<text x="448.70" y="151.00" font-size="17.8" fill="#056656" font-weight="normal" text-anchor="start" textLength="87.20" lengthAdjust="spacingAndGlyphs" stroke="#056656" stroke-width="0.35">87,849.78</text>
<text x="546.90" y="151.00" font-size="17.8" fill="#e6e6e6" font-weight="normal" text-anchor="start" textLength="10.40" lengthAdjust="spacingAndGlyphs" stroke="#e6e6e6" stroke-width="0.35">L</text>
<text x="557.30" y="151.00" font-size="17.8" fill="#056656" font-weight="normal" text-anchor="start" textLength="87.20" lengthAdjust="spacingAndGlyphs" stroke="#056656" stroke-width="0.35">86,956.61</text>
<text x="655.90" y="151.00" font-size="17.8" fill="#e6e6e6" font-weight="normal" text-anchor="start" textLength="13.40" lengthAdjust="spacingAndGlyphs" stroke="#e6e6e6" stroke-width="0.35">C</text>
<text x="669.30" y="151.00" font-size="17.8" fill="#056656" font-weight="normal" text-anchor="start" textLength="86.00" lengthAdjust="spacingAndGlyphs" stroke="#056656" stroke-width="0.35">87,705.35</text>
<text x="766.30" y="151.00" font-size="17.8" fill="#056656" font-weight="normal" text-anchor="start" textLength="70.20" lengthAdjust="spacingAndGlyphs" stroke="#056656" stroke-width="0.35">+727.35</text>
<text x="842.90" y="151.00" font-size="17.8" fill="#056656" font-weight="normal" text-anchor="start" textLength="82.00" lengthAdjust="spacingAndGlyphs" stroke="#056656" stroke-width="0.35">(+0.84%)</text>
<g clip-path="url(#cpR)">
<rect x="16" y="782" width="1435.5" height="126" fill="#0d0a16"/>
<line x1="16" y1="782.2" x2="1451.5" y2="782.2" stroke="#8f9097" stroke-width="1.3" stroke-dasharray="8 9.1"/>
<line x1="16" y1="845.1" x2="1451.5" y2="845.1" stroke="#5d5e66" stroke-width="1.3" stroke-dasharray="8 9.1"/>
<line x1="16" y1="907.9" x2="1451.5" y2="907.9" stroke="#8f9097" stroke-width="1.3" stroke-dasharray="8 9.1"/>
<defs><linearGradient id="os" x1="0" y1="908" x2="0" y2="940" gradientUnits="userSpaceOnUse"><stop offset="0" stop-color="#ff5252" stop-opacity="0"/><stop offset="1" stop-color="#ff5252" stop-opacity="0.32"/></linearGradient><clipPath id="cpOS"><rect x="16" y="908" width="1436" height="43"/></clipPath></defs>
<polygon clip-path="url(#cpOS)" points="16,908 16.0,845.0 21.8,870.1 32.9,880.1 44.1,874.7 55.3,866.2 66.5,845.6 77.7,853.1 88.9,873.7 100.1,897.1 111.3,882.2 122.4,887.1 133.6,902.8 144.8,909.4 156.0,899.8 167.2,907.0 178.4,915.1 189.6,887.5 200.8,888.1 211.9,893.4 223.1,884.9 234.3,887.1 245.5,891.3 256.7,887.1 267.9,882.2 279.1,887.5 290.3,898.8 301.4,904.1 312.6,898.8 323.8,874.7 335.0,872.6 346.2,872.6 357.4,891.3 368.6,914.7 379.8,903.4 391.0,915.1 402.1,917.7 413.3,898.1 424.5,873.7 435.7,869.4 446.9,872.0 458.1,884.9 469.3,884.9 480.5,889.6 491.6,905.6 502.8,914.7 514.0,869.4 525.2,856.3 536.4,857.3 547.6,862.4 558.8,883.2 570.0,906.6 581.1,909.8 592.3,915.8 603.5,925.7 614.7,934.7 625.9,923.6 637.1,905.6 648.3,891.3 659.5,896.6 670.7,893.4 681.8,898.5 693.0,894.9 704.2,889.0 715.4,887.1 726.6,860.5 737.8,867.3 749.0,858.2 760.2,846.7 771.3,843.5 782.5,851.4 793.7,840.7 804.9,847.5 816.1,859.9 827.3,853.5 838.5,827.4 849.7,827.6 860.9,836.5 872.0,844.1 883.2,844.6 894.4,851.4 905.6,853.5 916.8,842.9 928.0,848.2 939.2,831.8 950.4,849.7 961.5,852.0 972.7,836.1 972.7,908" fill="url(#os)"/>
<path d="M16.0 857.7 C22.1 858.4 39.3 860.5 52.5 861.6 C65.7 862.7 80.8 863.2 95.0 864.1 C109.2 865.0 123.3 866.4 137.5 867.3 C151.7 868.2 165.8 868.9 180.0 869.4 C194.2 869.9 208.3 870.1 222.5 870.1 C236.7 870.1 250.8 869.6 265.0 869.6 C279.2 869.6 295.0 869.9 307.5 870.1 C320.0 870.3 327.5 870.5 340.0 870.9 C352.5 871.3 368.3 872.0 382.5 872.6 C396.7 873.2 410.8 873.8 425.0 874.3 C439.2 874.8 455.1 875.4 467.5 875.8 C479.9 876.1 488.8 876.4 499.4 876.4 C510.0 876.4 518.8 875.9 531.2 875.8 C543.6 875.7 559.5 875.8 573.7 875.8 C587.9 875.8 600.2 876.0 616.2 876.0 C632.2 876.0 654.0 875.9 670.0 876.0 C686.0 876.1 698.3 877.0 712.5 876.9 C726.7 876.8 740.8 876.0 755.0 875.4 C769.2 874.8 783.3 873.7 797.5 873.3 C811.7 872.9 825.8 873.2 840.0 873.0 C854.2 872.8 868.3 872.4 882.5 872.0 C896.7 871.6 910.0 870.9 925.0 870.9 C940.0 870.9 964.8 872.0 972.8 872.2" fill="none" stroke="#e91e63" stroke-width="3.3" stroke-linejoin="round"/>
<polyline points="16.0,845.0 21.8,870.1 32.9,880.1 44.1,874.7 55.3,866.2 66.5,845.6 77.7,853.1 88.9,873.7 100.1,897.1 111.3,882.2 122.4,887.1 133.6,902.8 144.8,909.4 156.0,899.8 167.2,907.0 178.4,915.1 189.6,887.5 200.8,888.1 211.9,893.4 223.1,884.9 234.3,887.1 245.5,891.3 256.7,887.1 267.9,882.2 279.1,887.5 290.3,898.8 301.4,904.1 312.6,898.8 323.8,874.7 335.0,872.6 346.2,872.6 357.4,891.3 368.6,914.7 379.8,903.4 391.0,915.1 402.1,917.7 413.3,898.1 424.5,873.7 435.7,869.4 446.9,872.0 458.1,884.9 469.3,884.9 480.5,889.6 491.6,905.6 502.8,914.7 514.0,869.4 525.2,856.3 536.4,857.3 547.6,862.4 558.8,883.2 570.0,906.6 581.1,909.8 592.3,915.8 603.5,925.7 614.7,934.7 625.9,923.6 637.1,905.6 648.3,891.3 659.5,896.6 670.7,893.4 681.8,898.5 693.0,894.9 704.2,889.0 715.4,887.1 726.6,860.5 737.8,867.3 749.0,858.2 760.2,846.7 771.3,843.5 782.5,851.4 793.7,840.7 804.9,847.5 816.1,859.9 827.3,853.5 838.5,827.4 849.7,827.6 860.9,836.5 872.0,844.1 883.2,844.6 894.4,851.4 905.6,853.5 916.8,842.9 928.0,848.2 939.2,831.8 950.4,849.7 961.5,852.0 972.7,836.1" fill="none" stroke="#1c50d8" stroke-width="3.3" stroke-linejoin="round" stroke-linecap="butt"/>
</g>
<g clip-path="url(#cpO)">
<path d="M16.2 957.5 C35.2 957.7 89.4 958.3 130.0 958.7 C170.6 959.1 217.5 959.5 260.0 960.0 C302.5 960.5 343.3 961.0 385.0 961.5 C426.7 962.0 472.1 962.4 510.0 963.1 C547.9 963.8 577.7 964.8 612.5 965.6 C647.3 966.4 680.2 967.0 718.8 968.0 C757.3 969.0 801.5 970.3 843.8 971.6 C886.0 972.9 951.0 974.9 972.5 975.6" fill="none" stroke="#a3164c" stroke-width="3" stroke-linejoin="round" stroke-linecap="round"/>
<polyline points="16.2,958.1 31.9,961.2 47.5,960.6 66.2,958.1 85.0,960.6 100.6,965.3 111.6,963.1 122.5,964.7 135.0,968.4 144.4,970.0 155.3,965.3 166.2,966.9 178.8,968.8 189.7,967.5 210.0,968.8 225.6,968.1 244.4,969.1 266.2,968.1 288.1,969.4 302.2,973.1 314.7,971.2 335.0,968.8 347.5,969.4 356.9,971.6 367.8,975.3 378.8,973.1 391.2,976.2 403.1,978.8 416.2,976.9 435.0,974.1 453.8,974.7 469.4,976.2 481.9,977.2 492.8,979.4 502.2,981.9 512.5,979.4 525.0,978.1 546.9,980.6 559.4,983.1 570.3,987.8 581.2,989.4 592.2,991.9 614.1,1000.6 625.0,993.4 637.5,990.9 648.4,989.7 659.4,990.6 670.3,989.7 681.2,990.9 700.0,989.7 715.6,989.1 726.6,987.8 737.5,989.1 750.0,988.1 770.3,985.6 781.2,986.9 792.2,985.3 815.6,988.1 826.6,986.6 837.5,984.4 853.1,985.6 881.2,988.1 893.8,990.0 904.7,990.9 915.6,990.3 928.1,990.6 937.5,990.0 950.0,990.9 960.9,992.2 972.5,991.9" fill="none" stroke="#089981" stroke-width="3" stroke-linejoin="round" stroke-linecap="round"/>
</g>
<rect x="16" y="119.3" width="1568" height="1.4" fill="#2a2e39"/>
<rect x="16" y="761.6999999999999" width="1568" height="1.4" fill="#2a2e39"/>
<rect x="16" y="950.5999999999999" width="1568" height="1.4" fill="#2a2e39"/>
<g clip-path="url(#cpAx1)">
<path d="M1451.5 45.8 H1535 Q1538 45.8 1538 48.8 V69 Q1538 72 1535 72 H1451.5 Z" fill="#26a69a"/>
<text x="1466.50" y="65.30" font-size="17.7" fill="#fff" font-weight="normal" text-anchor="start" textLength="62.10" lengthAdjust="spacingAndGlyphs" >106.19</text>
<path d="M1451.5 72 H1511.6 Q1514.6 72 1514.6 75 V95.4 Q1514.6 98.4 1511.6 98.4 H1451.5 Z" fill="#2962ff"/>
<text x="1465.10" y="91.60" font-size="17.7" fill="#fff" font-weight="normal" text-anchor="start" textLength="40.40" lengthAdjust="spacingAndGlyphs" >5.06</text>
<path d="M1451.5 98.6 H1545.8 Q1548.8 98.6 1548.8 101.6 V122 Q1548.8 125 1545.8 125 H1451.5 Z" fill="#ff6d00"/>
<text x="1465.10" y="118.20" font-size="17.7" fill="#fff" font-weight="normal" text-anchor="start" textLength="75.00" lengthAdjust="spacingAndGlyphs" >−101.13</text>
</g>
<g clip-path="url(#cpAx2)">
<text x="1466.40" y="205.70" font-size="17.7" fill="#e0e0e0" font-weight="normal" text-anchor="start" textLength="103.00" lengthAdjust="spacingAndGlyphs" >108,000.00</text>
<path d="M1451.5 156 H1575.3 Q1578.3 156 1578.3 159 V181.3 Q1578.3 184.3 1575.3 184.3 H1451.5 Z" fill="#2962ff"/>
<text x="1466.40" y="176.55" font-size="17.7" fill="#fff" font-weight="normal" text-anchor="start" textLength="103.00" lengthAdjust="spacingAndGlyphs" >108,021.74</text>
<rect x="1452.0" y="120.5" width="132.0" height="52.5" fill="#000"/>
<rect x="1457" y="126.3" width="121.5" height="41" rx="6" fill="#0f0f0f" stroke="#2e2e2e" stroke-width="1.2"/>
<text x="1471.00" y="153.40" font-size="18.2" fill="#d1d4dc" font-weight="normal" text-anchor="start" textLength="50.50" lengthAdjust="spacingAndGlyphs" >USDT</text>
<text x="1466.40" y="279.90" font-size="17.7" fill="#e0e0e0" font-weight="normal" text-anchor="start" textLength="103.00" lengthAdjust="spacingAndGlyphs" >104,000.00</text>
<path d="M1451.5 237.8 H1575.3 Q1578.3 237.8 1578.3 240.8 V261.1 Q1578.3 264.1 1575.3 264.1 H1451.5 Z" fill="#787b86"/>
<text x="1466.40" y="257.35" font-size="17.7" fill="#fff" font-weight="normal" text-anchor="start" textLength="103.00" lengthAdjust="spacingAndGlyphs" >105,285.60</text>
<path d="M1451.5 279.5 H1575.3 Q1578.3 279.5 1578.3 282.5 V302.7 Q1578.3 305.7 1575.3 305.7 H1451.5 Z" fill="#ff9800"/>
<text x="1466.40" y="299.00" font-size="17.7" fill="#000" font-weight="normal" text-anchor="start" textLength="103.00" lengthAdjust="spacingAndGlyphs" >103,063.39</text>
<path d="M1451.5 309.2 H1575.3 Q1578.3 309.2 1578.3 312.2 V332.6 Q1578.3 335.6 1575.3 335.6 H1451.5 Z" fill="#089981"/>
<text x="1466.40" y="328.80" font-size="17.7" fill="#fff" font-weight="normal" text-anchor="start" textLength="103.00" lengthAdjust="spacingAndGlyphs" >100,659.89</text>
<path d="M1451.5 335.8 H1575.3 Q1578.3 335.8 1578.3 338.8 V359 Q1578.3 362 1575.3 362 H1451.5 Z" fill="#9c6b20"/>
<text x="1466.40" y="355.30" font-size="17.7" fill="#fff" font-weight="normal" text-anchor="start" textLength="103.00" lengthAdjust="spacingAndGlyphs" >100,000.00</text>
<text x="1464.80" y="428.40" font-size="17.7" fill="#e0e0e0" font-weight="normal" text-anchor="start" textLength="93.30" lengthAdjust="spacingAndGlyphs" >96,000.00</text>
<text x="1464.80" y="503.00" font-size="17.7" fill="#e0e0e0" font-weight="normal" text-anchor="start" textLength="93.30" lengthAdjust="spacingAndGlyphs" >92,000.00</text>
<path d="M1451.5 439.4 H1564.3 Q1567.3 439.4 1567.3 442.4 V462.7 Q1567.3 465.7 1564.3 465.7 H1451.5 Z" fill="#e91e63"/>
<text x="1464.80" y="458.95" font-size="17.7" fill="#fff" font-weight="normal" text-anchor="start" textLength="93.30" lengthAdjust="spacingAndGlyphs" >93,246.62</text>
<path d="M1451.5 466 H1564.3 Q1567.3 466 1567.3 469 V488.9 Q1567.3 491.9 1564.3 491.9 H1451.5 Z" fill="#3179f5"/>
<text x="1464.80" y="485.35" font-size="17.7" fill="#fff" font-weight="normal" text-anchor="start" textLength="93.30" lengthAdjust="spacingAndGlyphs" >93,010.57</text>
<path d="M1451.5 522.1 H1564.3 Q1567.3 522.1 1567.3 525.1 V545 Q1567.3 548 1564.3 548 H1451.5 Z" fill="#81c784"/>
<text x="1464.80" y="541.45" font-size="17.7" fill="#000" font-weight="normal" text-anchor="start" textLength="93.30" lengthAdjust="spacingAndGlyphs" >90,000.00</text>
<text x="1464.80" y="576.40" font-size="17.7" fill="#e0e0e0" font-weight="normal" text-anchor="start" textLength="93.30" lengthAdjust="spacingAndGlyphs" >88,000.00</text>
<text x="1464.80" y="726.70" font-size="17.7" fill="#e0e0e0" font-weight="normal" text-anchor="start" textLength="93.30" lengthAdjust="spacingAndGlyphs" >80,000.00</text>
<path d="M1451.5 564.9 H1564.3 Q1567.3 564.9 1567.3 567.9 V609.7 Q1567.3 612.7 1564.3 612.7 H1451.5 Z" fill="#056656"/>
<text x="1464.80" y="595.20" font-size="17.7" fill="#fff" font-weight="normal" text-anchor="start" textLength="93.30" lengthAdjust="spacingAndGlyphs" >87,705.35</text>
<rect x="1451.5" y="586" width="115" height="24" fill="#056656"/>
<text x="1464.80" y="582.90" font-size="17.7" fill="#fff" font-weight="normal" text-anchor="start" textLength="93.30" lengthAdjust="spacingAndGlyphs" >87,705.35</text>
<rect x="1451.5" y="566" width="110" height="40" fill="#056656"/>
<text x="1464.80" y="582.90" font-size="17.7" fill="#fff" font-weight="normal" text-anchor="start" textLength="93.30" lengthAdjust="spacingAndGlyphs" >87,705.35</text>
<text x="1464.80" y="604.60" font-size="17.7" fill="#b4d1cc" font-weight="normal" text-anchor="start" textLength="81.50" lengthAdjust="spacingAndGlyphs" >03:26:15</text>
<path d="M1451.5 613 H1564.3 Q1567.3 613 1567.3 616 V635.9 Q1567.3 638.9 1564.3 638.9 H1451.5 Z" fill="#787b86"/>
<text x="1464.80" y="632.35" font-size="17.7" fill="#fff" font-weight="normal" text-anchor="start" textLength="93.30" lengthAdjust="spacingAndGlyphs" >87,643.84</text>
<path d="M1451.5 639.2 H1564.3 Q1567.3 639.2 1567.3 642.2 V662.2 Q1567.3 665.2 1564.3 665.2 H1451.5 Z" fill="#ab47bc"/>
<text x="1464.80" y="658.60" font-size="17.7" fill="#fff" font-weight="normal" text-anchor="start" textLength="93.30" lengthAdjust="spacingAndGlyphs" >87,249.39</text>
<path d="M1451.5 665.8 H1564.3 Q1567.3 665.8 1567.3 668.8 V688.8 Q1567.3 691.8 1564.3 691.8 H1451.5 Z" fill="#ff9800"/>
<text x="1464.80" y="685.20" font-size="17.7" fill="#000" font-weight="normal" text-anchor="start" textLength="93.30" lengthAdjust="spacingAndGlyphs" >86,050.59</text>
<path d="M1451.5 692.4 H1564.3 Q1567.3 692.4 1567.3 695.4 V715.3 Q1567.3 718.3 1564.3 718.3 H1451.5 Z" fill="#81c784"/>
<text x="1464.80" y="711.75" font-size="17.7" fill="#000" font-weight="normal" text-anchor="start" textLength="93.30" lengthAdjust="spacingAndGlyphs" >85,000.00</text>
</g>
<path d="M1451.5 796.9 H1522.2 Q1525.2 796.9 1525.2 799.9 V820.1 Q1525.2 823.1 1522.2 823.1 H1451.5 Z" fill="#ffffff"/>
<text x="1465.10" y="816.40" font-size="17.7" fill="#111" font-weight="normal" text-anchor="start" textLength="51.80" lengthAdjust="spacingAndGlyphs" >55.73</text>
<path d="M1451.5 823.5 H1522.2 Q1525.2 823.5 1525.2 826.5 V846.5 Q1525.2 849.5 1522.2 849.5 H1451.5 Z" fill="#1848cc"/>
<text x="1465.10" y="842.90" font-size="17.7" fill="#fff" font-weight="normal" text-anchor="start" textLength="51.80" lengthAdjust="spacingAndGlyphs" >52.76</text>
<path d="M1451.5 850.1 H1522.2 Q1525.2 850.1 1525.2 853.1 V873.1 Q1525.2 876.1 1522.2 876.1 H1451.5 Z" fill="#ffffff"/>
<text x="1465.10" y="869.50" font-size="17.7" fill="#111" font-weight="normal" text-anchor="start" textLength="51.80" lengthAdjust="spacingAndGlyphs" >47.48</text>
<path d="M1451.5 876.7 H1522.2 Q1525.2 876.7 1525.2 879.7 V899.7 Q1525.2 902.7 1522.2 902.7 H1451.5 Z" fill="#e91e63"/>
<text x="1465.10" y="896.10" font-size="17.7" fill="#fff" font-weight="normal" text-anchor="start" textLength="51.80" lengthAdjust="spacingAndGlyphs" >41.42</text>
<text x="1465.30" y="946.10" font-size="17.7" fill="#e0e0e0" font-weight="normal" text-anchor="start" textLength="51.60" lengthAdjust="spacingAndGlyphs" >20.00</text>
<g clip-path="url(#cpAx4)">
<path d="M1451.5 962.3 H1530 Q1533 962.3 1533 965.3 V985.6 Q1533 988.6 1530 988.6 H1451.5 Z" fill="#e91e63"/>
<text x="1465.10" y="981.85" font-size="17.7" fill="#fff" font-weight="normal" text-anchor="start" textLength="38.80" lengthAdjust="spacingAndGlyphs" >3.07</text>
<text x="1508.50" y="981.85" font-size="17.7" fill="#fff" font-weight="normal" text-anchor="start" textLength="16.00" lengthAdjust="spacingAndGlyphs" >M</text>
<path d="M1451.5 989.2 H1530 Q1533 989.2 1533 992.2 V1012.5 Q1533 1015.5 1530 1015.5 H1451.5 Z" fill="#089981"/>
<text x="1465.10" y="1008.75" font-size="17.7" fill="#fff" font-weight="normal" text-anchor="start" textLength="38.80" lengthAdjust="spacingAndGlyphs" >3.02</text>
<text x="1508.50" y="1008.75" font-size="17.7" fill="#fff" font-weight="normal" text-anchor="start" textLength="16.00" lengthAdjust="spacingAndGlyphs" >M</text>
</g>
<rect x="1450.9" y="42" width="1.2" height="1007" fill="#26a69a"/>
<rect x="16" y="1006" width="1568" height="1.5" fill="#26a69a"/>
<text x="45.35" y="1036.20" font-size="17.7" fill="#e0e0e0" font-weight="normal" text-anchor="start" textLength="22.50" lengthAdjust="spacingAndGlyphs" >13</text>
<text x="179.15" y="1036.20" font-size="17.7" fill="#e0e0e0" font-weight="normal" text-anchor="start" textLength="22.30" lengthAdjust="spacingAndGlyphs" >15</text>
<text x="313.60" y="1036.20" font-size="17.7" fill="#e0e0e0" font-weight="normal" text-anchor="start" textLength="21.80" lengthAdjust="spacingAndGlyphs" >17</text>
<text x="447.25" y="1036.20" font-size="17.7" fill="#e0e0e0" font-weight="normal" text-anchor="start" textLength="22.50" lengthAdjust="spacingAndGlyphs" >19</text>
<text x="581.40" y="1036.20" font-size="17.7" fill="#e0e0e0" font-weight="normal" text-anchor="start" textLength="21.80" lengthAdjust="spacingAndGlyphs" >21</text>
<text x="715.25" y="1036.20" font-size="17.7" fill="#e0e0e0" font-weight="normal" text-anchor="start" textLength="22.50" lengthAdjust="spacingAndGlyphs" >23</text>
<text x="849.25" y="1036.20" font-size="17.7" fill="#e0e0e0" font-weight="normal" text-anchor="start" textLength="22.50" lengthAdjust="spacingAndGlyphs" >25</text>
<text x="983.25" y="1036.20" font-size="17.7" fill="#e0e0e0" font-weight="normal" text-anchor="start" textLength="22.50" lengthAdjust="spacingAndGlyphs" >27</text>
<text x="1117.65" y="1036.20" font-size="17.7" fill="#e0e0e0" font-weight="normal" text-anchor="start" textLength="23.30" lengthAdjust="spacingAndGlyphs" >29</text>
<text x="1391.10" y="1036.20" font-size="17.7" fill="#e0e0e0" font-weight="normal" text-anchor="start" textLength="11.80" lengthAdjust="spacingAndGlyphs" >3</text>
<text x="1245.30" y="1035.80" font-size="18" fill="#f0f0f0" font-weight="bold" text-anchor="start" textLength="36.00" lengthAdjust="spacingAndGlyphs" >Dec</text>
<g fill="#d8d8d8">
<path d="M18.4 1084.3 H37 V1106.8 H27.7 V1093.6 H18.4 Z"/>
<circle cx="44.9" cy="1088.1" r="3.75"/>
<path d="M54.2 1084.3 H64.8 L55.6 1106.8 H44.9 Z"/>
</g>
<text y="1106.9" font-size="31.4" font-weight="bold" fill="#d8d8d8" stroke="#d8d8d8" stroke-width="0.5" x="75.9 94.7 105 123.7 144.7 153.4 171.8 189.4 210.9 219.3 237.4">TradingView</text></svg>
</body></html>
